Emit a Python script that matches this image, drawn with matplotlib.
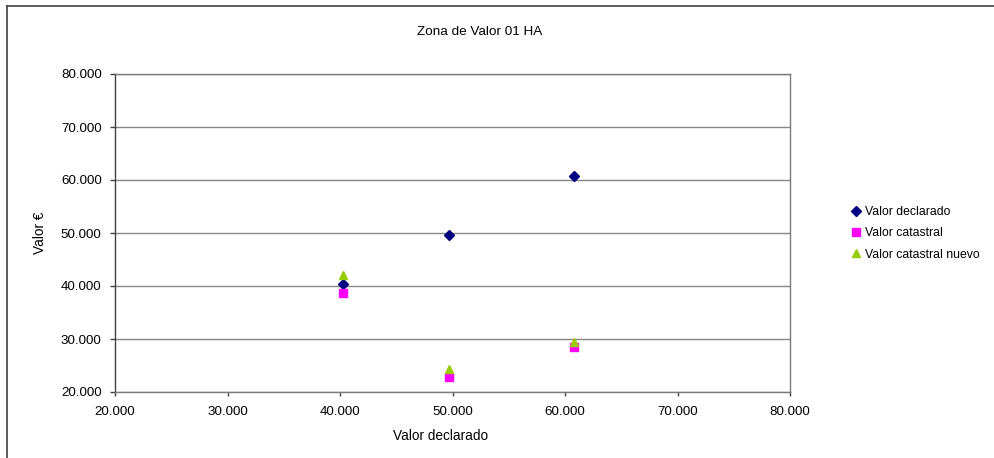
import matplotlib
matplotlib.use("Agg")
import matplotlib.pyplot as plt
from matplotlib.lines import Line2D
from matplotlib.ticker import FuncFormatter

plt.rcParams['font.family'] = ['Liberation Sans', 'DejaVu Sans']

# Declared value (x) for each property
valor_declarado_x = [40300, 49700, 60800]
# Series values (y)
valor_declarado = [40300, 49700, 60800]
valor_catastral = [38750, 22750, 28400]
valor_catastral_nuevo = [42100, 24300, 29450]

x_ticks = [20000, 30000, 40000, 50000, 60000, 70000, 80000]
y_ticks = [20000, 30000, 40000, 50000, 60000, 70000, 80000]

W, H = 995, 458
fig = plt.figure(figsize=(W / 100, H / 100), dpi=100)
ax = fig.add_axes([115 / W, 1 - 392 / H, (790 - 115) / W, (392 - 74) / H])

ax.plot(valor_declarado_x, valor_declarado, linestyle='none', marker='D',
        markersize=4.6, color='#000080', label='Valor declarado', zorder=3)
ax.plot(valor_declarado_x, valor_catastral, linestyle='none', marker='s',
        markersize=6, color='#FF00FF', label='Valor catastral', zorder=3)
ax.plot(valor_declarado_x, valor_catastral_nuevo, linestyle='none', marker='^',
        markersize=6.2, color='#99CC00', label='Valor catastral nuevo', zorder=4)

ax.set_xlim(x_ticks[0], x_ticks[-1])
ax.set_ylim(y_ticks[0], y_ticks[-1])
ax.set_xticks(x_ticks)
ax.set_yticks(y_ticks)

fmt = FuncFormatter(lambda v, p: f"{int(v):,}".replace(",", "."))
ax.xaxis.set_major_formatter(fmt)
ax.yaxis.set_major_formatter(fmt)

ax.yaxis.grid(True, color='#868686', linewidth=1.0)
ax.set_axisbelow(True)
for side in ['top', 'right', 'bottom']:
    ax.spines[side].set_color('#7a7a7a')
    ax.spines[side].set_linewidth(1.0)
ax.spines['left'].set_color('#404040')
ax.spines['left'].set_linewidth(1.0)

ax.tick_params(axis='y', direction='out', length=3.6, width=1,
               color='#404040', labelsize=9.6, labelcolor='black', pad=6)
ax.tick_params(axis='x', direction='out', length=2.9, width=1,
               color='#404040', labelsize=9.6, labelcolor='black', pad=7)

fig.text(441 / W, 1 - 436 / H, 'Valor declarado', ha='center', va='center',
         fontsize=9.8)
fig.text(40 / W, 1 - 233 / H, 'Valor €', ha='center', va='center',
         rotation=90, fontsize=9.8)
fig.text(480 / W, 1 - 32 / H, 'Zona de Valor 01 HA', ha='center', va='center',
         fontsize=9.7)

ax.legend(loc='center left', bbox_to_anchor=(851 / W, 1 - 233.5 / H),
          bbox_transform=fig.transFigure, frameon=False, fontsize=8.8,
          handlelength=0.8, handletextpad=0.36, labelspacing=0.75,
          borderpad=0, borderaxespad=0)

# chart frame
fig.add_artist(Line2D([7 / W, 1.0], [1 - 6 / H, 1 - 6 / H], color='#404040',
                      linewidth=1.2, transform=fig.transFigure))
fig.add_artist(Line2D([7 / W, 7 / W], [0, 1 - 6 / H], color='#404040',
                      linewidth=1.2, transform=fig.transFigure))

fig.savefig('out.png', dpi=100)
